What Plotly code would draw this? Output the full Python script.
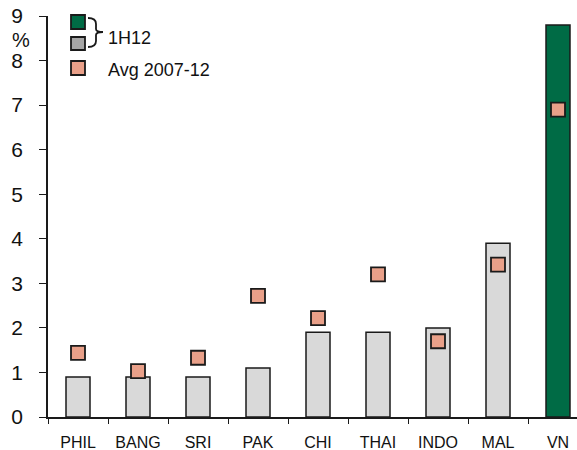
import plotly.graph_objects as go

# ---- data ----
categories = ["PHIL", "BANG", "SRI", "PAK", "CHI", "THAI", "INDO", "MAL", "VN"]
h1_12 = [0.9, 0.9, 0.9, 1.1, 1.9, 1.9, 2.0, 3.9, 8.8]
avg_2007_12 = [1.44, 1.03, 1.33, 2.72, 2.22, 3.2, 1.7, 3.42, 6.9]
y_ticks = [0, 1, 2, 3, 4, 5, 6, 7, 8, 9]
highlight = "VN"

GRAY = "#d9d9d9"
GREEN = "#006b45"
SALMON = "#e9a089"
EDGE = "#1a1a1a"
FONT = "Liberation Sans, Arial, sans-serif"

W, H = 577, 450
L, R, T, B = 48, 0, 16, 33
PW, PH = W - L - R, H - T - B

def px(x):
    return (x - L) / PW

def py(y):
    return (H - B - y) / PH

bar_colors = [GREEN if c == highlight else GRAY for c in categories]

fig = go.Figure()
fig.add_trace(go.Bar(
    x=categories, y=h1_12, width=0.4,
    marker=dict(color=bar_colors, line=dict(color=EDGE, width=1.5)),
    showlegend=False,
))
fig.add_trace(go.Scatter(
    x=categories, y=avg_2007_12, mode="markers",
    marker=dict(symbol="square", size=14, color=SALMON,
                line=dict(color=EDGE, width=1.8)),
    showlegend=False,
))

# custom legend
shapes = []
for (y0, y1, col) in [(15, 29, GREEN), (37, 50, "#a6a6a6"), (61, 75, SALMON)]:
    shapes.append(dict(type="rect", xref="paper", yref="paper",
                       x0=px(71), x1=px(85), y0=py(y1), y1=py(y0),
                       fillcolor=col, line=dict(color=EDGE, width=1.8)))

def pt(x, y):
    return f"{px(x):.5f},{py(y):.5f}"

brace = (f"M{pt(88,18)} Q{pt(96,18)} {pt(96,24)} L{pt(96,29)} "
         f"Q{pt(96,32)} {pt(103,32)} Q{pt(96,32)} {pt(96,35)} "
         f"L{pt(96,41)} Q{pt(96,47)} {pt(88,47)}")
shapes.append(dict(type="path", xref="paper", yref="paper", path=brace,
                   line=dict(color=EDGE, width=1.8)))

annotations = [
    dict(text="1H12", xref="paper", yref="paper", x=px(106), y=py(38),
         xanchor="left", yanchor="middle", showarrow=False,
         font=dict(size=18, color="#111", family=FONT)),
    dict(text="Avg 2007-12", xref="paper", yref="paper", x=px(106), y=py(70),
         xanchor="left", yanchor="middle", showarrow=False,
         font=dict(size=18, color="#111", family=FONT)),
    dict(text="%", xref="paper", yref="paper", x=px(21), y=py(40),
         xanchor="center", yanchor="middle", showarrow=False,
         font=dict(size=20, color="#111", family=FONT)),
]

fig.update_layout(
    width=W, height=H,
    margin=dict(l=L, r=R, t=T, b=B, pad=0),
    paper_bgcolor="white", plot_bgcolor="white",
    font=dict(family=FONT, color="#111"),
    shapes=shapes, annotations=annotations,
    showlegend=False,
)
fig.update_xaxes(
    type="category", range=[-0.5, -0.5 + PW / 60.0],
    showline=True, linecolor=EDGE, linewidth=1.5,
    ticks="outside", tickson="boundaries", ticklen=5, tickcolor=EDGE,
    tickfont=dict(size=16, family=FONT, color="#111"),
    ticklabelstandoff=10,
    showgrid=False, zeroline=False, fixedrange=True,
)
fig.update_yaxes(
    range=[0, 9], tickvals=y_ticks, showline=True, linecolor=EDGE, linewidth=1.5,
    ticks="outside", ticklen=7, tickcolor=EDGE,
    tickfont=dict(size=21, family=FONT, color="#111"),
    ticklabelstandoff=12,
    showgrid=False, zeroline=False,
)

fig.write_html("out.html")
